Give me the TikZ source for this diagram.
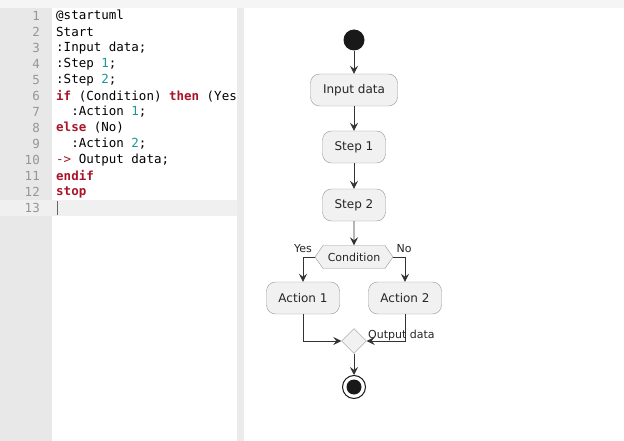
\documentclass[tikz,border=0pt]{standalone}
\usepackage{fontspec}
\setmainfont{DejaVu Sans}
\newfontfamily\codefont{DejaVu Sans Mono}
\usetikzlibrary{arrows.meta,shapes.geometric,shapes.symbols}
\definecolor{kw}{RGB}{170,20,40}
\definecolor{num}{RGB}{30,150,150}
\definecolor{lnum}{RGB}{150,150,150}
\definecolor{boxfill}{RGB}{241,241,241}
\definecolor{boxline}{RGB}{150,150,150}
\begin{document}
\begin{tikzpicture}[x=1pt,y=-1pt,
  act/.style={draw=boxline,fill=boxfill,rounded corners=9pt,minimum height=32pt,font=\fontsize{12}{14}\selectfont,text=black!85,inner xsep=8pt},
  flow/.style={draw=black!80,line width=0.8pt,-{Stealth[length=8pt,width=8pt,inset=3pt]}},
  code/.style={anchor=west,font=\codefont\fontsize{12.5}{14}\selectfont,inner sep=0pt},
  lnr/.style={anchor=east,font=\codefont\fontsize{12.5}{14}\selectfont,text=lnum,inner sep=0pt},
  lbl/.style={font=\fontsize{11}{13}\selectfont,text=black!85,inner sep=0pt}]
\useasboundingbox (0,0) rectangle (624,441);
\fill[white] (0,0) rectangle (624,441);
\fill[black!4] (0,0) rectangle (624,8);
\fill[black!9] (0,8) rectangle (52,441);
\fill[black!6] (0,200) rectangle (240,216);
\foreach \i in {1,...,13} \node[lnr] (ln\i) at (40,{16*\i}) {\i};
\node[code] (c1) at (56,16) {@startuml};
\node[code] (c2) at (56,32) {Start};
\node[code] (c3) at (56,48) {:Input data;};
\node[code] (c4) at (56,64) {:Step \textcolor{num}{1};};
\node[code] (c5) at (56,80) {:Step \textcolor{num}{2};};
\node[code] (c6) at (56,96) {\textcolor{kw}{\textbf{if}} (Condition) \textcolor{kw}{\textbf{then}} (Yes};
\node[code] (c7) at (56,112) {\ \ :Action \textcolor{num}{1};};
\node[code] (c8) at (56,128) {\textcolor{kw}{\textbf{else}} (No)};
\node[code] (c9) at (56,144) {\ \ :Action \textcolor{num}{2};};
\node[code] (c10) at (56,160) {\textcolor{kw}{->} Output data;};
\node[code] (c11) at (56,176) {\textcolor{kw}{\textbf{endif}}};
\node[code] (c12) at (56,192) {\textcolor{kw}{\textbf{stop}}};
\draw[black!60] (57,201) -- (57,215);
\fill[black!8] (237,8) rectangle (244,441);
\fill[white] (244,8) rectangle (624,441);
% diagram
\node[circle,fill=black!90,minimum size=21pt,inner sep=0pt] (start) at (354,40) {};
\node[act,minimum width=87pt] (input) at (354,90) {Input data};
\node[act,minimum width=63pt] (s1) at (354,147) {Step 1};
\node[act,minimum width=63pt] (s2) at (354,205) {Step 2};
\node[draw=boxline,fill=boxfill,signal,signal to=east and west,signal pointer angle=110,minimum width=78pt,minimum height=23pt,inner sep=0pt,font=\fontsize{11}{13}\selectfont,text=black!85] (cond) at (354,257) {Condition};
\node[act,minimum width=73pt] (a1) at (303,298) {Action 1};
\node[act,minimum width=73pt] (a2) at (405,298) {Action 2};
\node[draw=boxline,fill=boxfill,diamond,minimum size=25pt,inner sep=0pt] (merge) at (354,341) {};
\node[circle,draw=black!90,line width=1pt,minimum size=23pt,inner sep=0pt] (stop) at (354,387) {};
\node[circle,fill=black!90,minimum size=15pt,inner sep=0pt] (stopin) at (354,387) {};
\draw[flow] (start) -- (input);
\draw[flow] (input) -- (s1);
\draw[flow] (s1) -- (s2);
\draw[flow] (s2) -- (cond);
\draw[flow] (cond.west) -| (a1.north);
\draw[flow] (cond.east) -| (a2.north);
\draw[flow] (a1.south) |- (merge.west);
\draw[flow] (a2.south) |- (merge.east);
\draw[flow] (merge) -- (stop);
\node[lbl] (yes) at (303,249) {Yes};
\node[lbl] (no) at (404,249) {No};
\node[lbl,anchor=west] (out) at (368,335) {Output data};
\end{tikzpicture}
\end{document}
